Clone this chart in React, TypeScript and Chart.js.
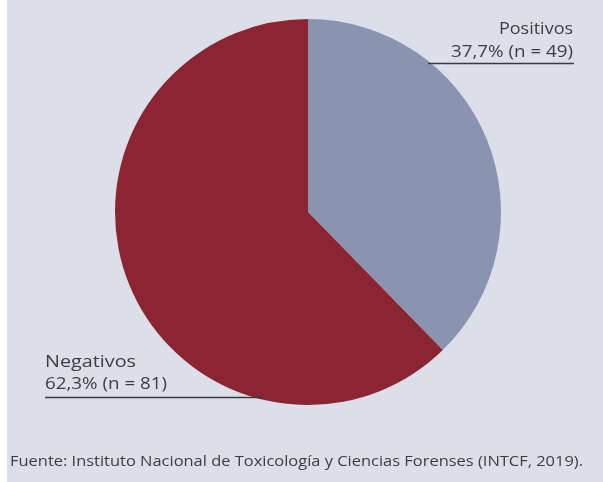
import React, { useEffect, useRef } from "react";
import { Chart, registerables } from "chart.js";

Chart.register(...registerables);

const categories = ["Positivos", "Negativos"];
const values = [49, 81];
const percentLabels = ["37,7%", "62,3%"];
const colors = ["#8a93b0", "#8b2532"];
const source = "Fuente: Instituto Nacional de Toxicología y Ciencias Forenses (INTCF, 2019).";

const FONT = "'Open Sans', sans-serif";
const TEXT_COLOR = "#3d3d3d";

function fitText(ctx: any, text: string, x: number, y: number, w: number, align: "left" | "right") {
  const m = ctx.measureText(text).width;
  const s = w / m;
  ctx.save();
  ctx.textAlign = "left";
  const startX = align === "left" ? x : x - w;
  ctx.translate(startX, y);
  ctx.scale(s, 1);
  ctx.fillText(text, 0, 0);
  ctx.restore();
}

const labelPlugin = {
  id: "calloutLabels",
  beforeDraw(chart: any) {
    const ctx = chart.ctx;
    ctx.save();
    ctx.fillStyle = "#ffffff";
    ctx.fillRect(0, 0, chart.width, chart.height);
    ctx.fillStyle = "#dcdeea";
    ctx.fillRect(7, 0, chart.width - 7, chart.height);
    ctx.restore();
  },
  afterDraw(chart: any) {
    const ctx = chart.ctx;
    ctx.save();
    ctx.fillStyle = TEXT_COLOR;
    ctx.font = `16px ${FONT}`;
    ctx.textBaseline = "alphabetic";
    fitText(ctx, categories[0], 573, 34, 74, "right");
    fitText(ctx, `${percentLabels[0]} (n = ${values[0]})`, 573, 57, 122, "right");
    fitText(ctx, categories[1], 45, 367, 91, "left");
    fitText(ctx, `${percentLabels[1]} (n = ${values[1]})`, 45, 389, 122, "left");
    ctx.strokeStyle = "#3b3b3b";
    ctx.lineWidth = 1.3;
    ctx.beginPath();
    ctx.moveTo(428, 63.5);
    ctx.lineTo(574, 63.5);
    ctx.moveTo(45, 397.5);
    ctx.lineTo(262, 397.5);
    ctx.stroke();
    ctx.font = `15px ${FONT}`;
    fitText(ctx, source, 10, 466, 573, "left");
    ctx.restore();
  },
};

export default function App() {
  const ref = useRef<HTMLCanvasElement | null>(null);
  useEffect(() => {
    if (!ref.current) return;
    const chart = new Chart(ref.current, {
      type: "pie",
      data: {
        labels: categories,
        datasets: [
          {
            data: values,
            backgroundColor: colors,
            borderWidth: 0,
          },
        ],
      },
      options: {
        animation: false,
        responsive: false,
        maintainAspectRatio: false,
        layout: { padding: { left: 115, right: 102, top: 19, bottom: 77 } },
        plugins: {
          legend: { display: false },
          tooltip: { enabled: false },
        },
      },
      plugins: [labelPlugin],
    });
    return () => chart.destroy();
  }, []);
  return (
    <div style={{ position: "fixed", left: 0, top: 0, width: 603, height: 482 }}>
      <canvas ref={ref} width={603} height={482} style={{ display: "block" }} />
    </div>
  );
}
